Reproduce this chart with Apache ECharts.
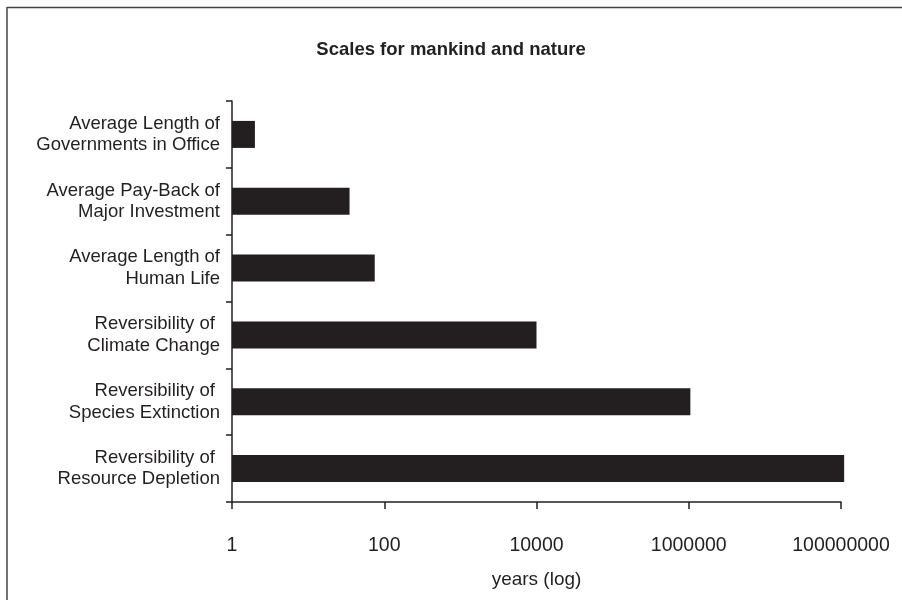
<!DOCTYPE html>
<html>
<head>
<meta charset="utf-8">
<script src="https://cdn.jsdelivr.net/npm/echarts@6/dist/echarts.min.js"></script>
<style>
  html, body { margin: 0; padding: 0; background: #fff; }
  #chart { width: 902px; height: 600px; }
</style>
</head>
<body>
<div id="chart"></div>
<script>
// Time scales, in years, on a log axis
const categories = [
  'Average Length of\nGovernments in Office',
  'Average Pay-Back of\nMajor Investment',
  'Average Length of\nHuman Life',
  'Reversibility of \nClimate Change',
  'Reversibility of \nSpecies Extinction',
  'Reversibility of \nResource Depletion'
];
const years = [2, 35, 75, 10000, 1050000, 110000000];
const tickValues = [1, 100, 10000, 1000000, 100000000];

const ink = '#231f20';
const font = '"Liberation Sans", Arial, Helvetica, sans-serif';

const chart = echarts.init(document.getElementById('chart'), null, { renderer: 'canvas' });
chart.setOption({
  backgroundColor: '#fff',
  animation: false,
  title: {
    text: 'Scales for mankind and nature',
    left: 'center',
    top: 35,
    textStyle: { fontFamily: font, fontSize: 18.5, fontWeight: 'bold', color: ink }
  },
  graphic: [
    { type: 'line', shape: { x1: 7, y1: 7.5, x2: 902, y2: 7.5 }, style: { stroke: '#444', lineWidth: 1.5 } },
    { type: 'line', shape: { x1: 7, y1: 7, x2: 7, y2: 600 }, style: { stroke: '#444', lineWidth: 1.5 } }
  ],
  grid: { left: 232, top: 101, width: 609, height: 401 },
  xAxis: {
    type: 'log',
    logBase: 10,
    min: 1,
    max: 100000000,
    name: 'years (log)',
    nameLocation: 'middle',
    nameGap: 68,
    nameTextStyle: { fontFamily: font, fontSize: 19, color: ink },
    axisLine: { show: true, lineStyle: { color: ink, width: 1.5 } },
    axisTick: { show: true, length: 7, lineStyle: { color: ink, width: 1.5 },
      customValues: tickValues },
    axisLabel: { fontFamily: font, fontSize: 19.5, color: ink, margin: 34,
      customValues: tickValues,
      formatter: v => String(Math.round(v)) },
    splitLine: { show: false },
    minorTick: { show: false }
  },
  yAxis: {
    type: 'category',
    inverse: true,
    data: categories,
    axisLine: { show: true, lineStyle: { color: ink, width: 1.5 } },
    axisTick: { show: true, length: 6, lineStyle: { color: ink, width: 1.5 } },
    axisLabel: { fontFamily: font, fontSize: 18.5, color: ink, lineHeight: 21.5, margin: 12, align: 'right' },
    splitLine: { show: false }
  },
  series: [{
    type: 'bar',
    data: years,
    barWidth: 27,
    clip: false,
    itemStyle: { color: ink }
  }]
});
</script>
</body>
</html>
